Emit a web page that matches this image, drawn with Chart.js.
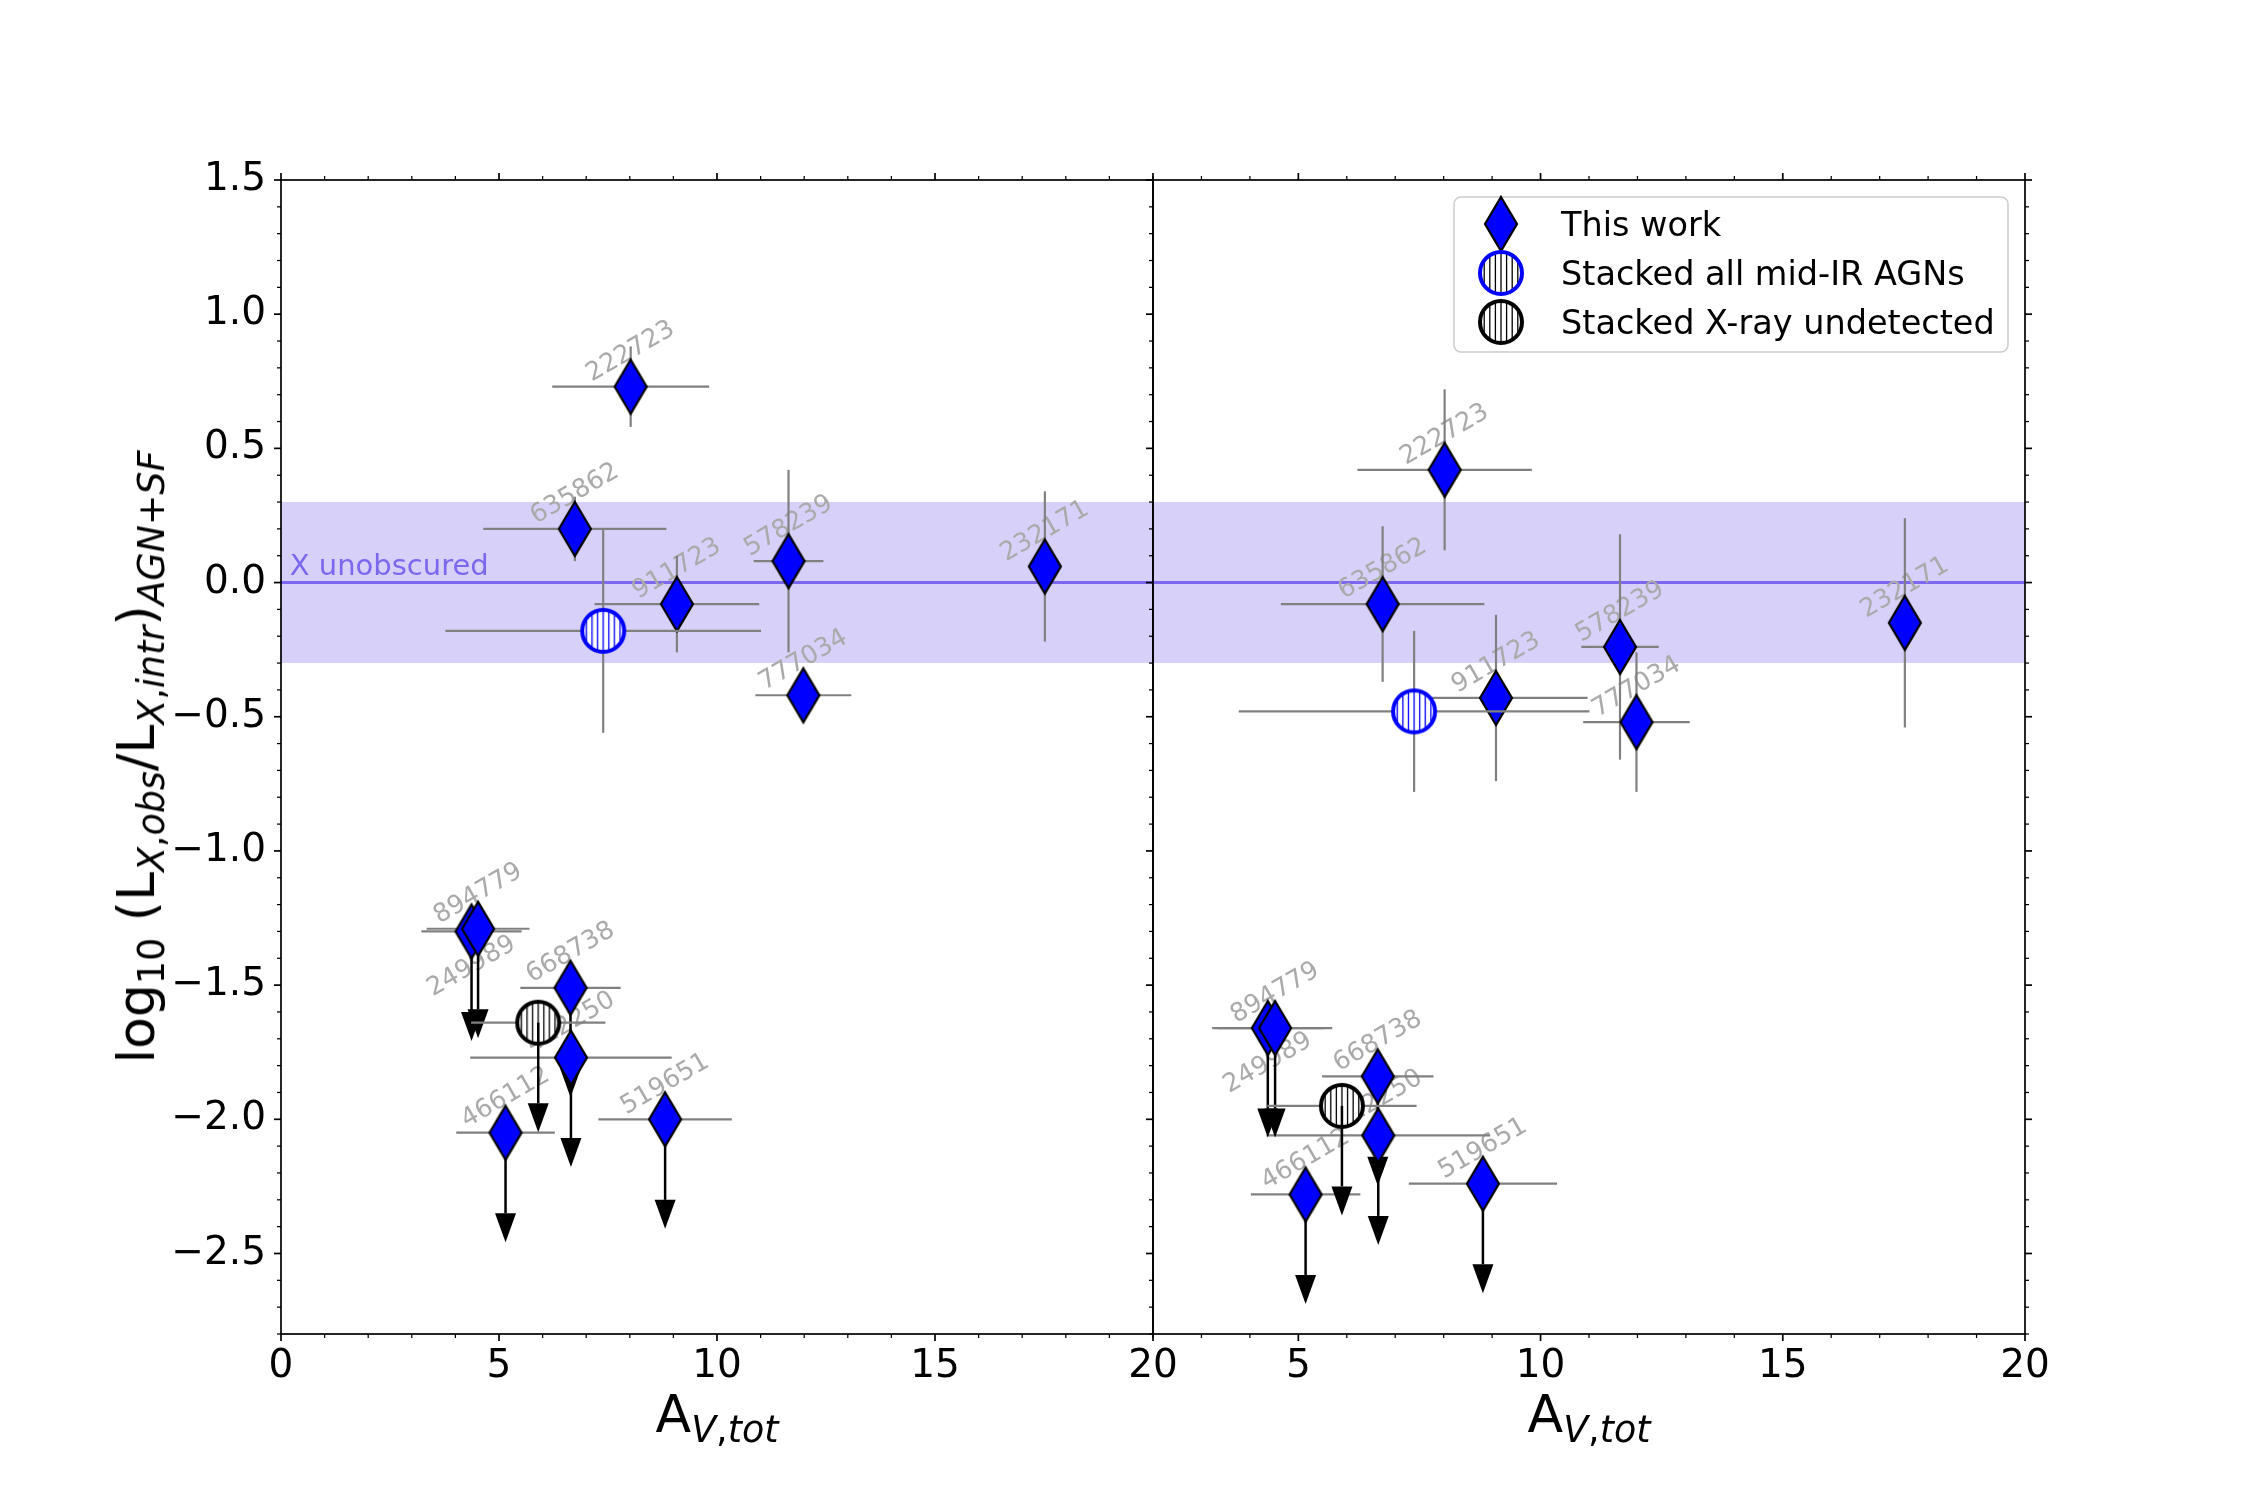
<!DOCTYPE html>
<html>
<head>
<meta charset="utf-8">
<script src="https://cdn.jsdelivr.net/npm/chart.js@4.4.1/dist/chart.umd.min.js"></script>
<style>
  html, body { margin: 0; padding: 0; background: #fff; }
  #wrap { position: relative; width: 2250px; height: 1500px; font-family: "DejaVu Sans", sans-serif; }
  #wrap canvas { position: absolute; top: 0; }
  #cvL { left: 0; }
  #cvR { left: 1100px; }
  .axlab { position: absolute; white-space: nowrap; font-size: 52px; line-height: 1; color: #000; }
  .axlab sub { font-size: 70%; vertical-align: -0.28em; line-height: 0; }
  .axlab i { font-style: italic; }
  #xlabL { left: 717px; top: 1388px; transform: translateX(-50%); }
  #xlabR { left: 1589px; top: 1388px; transform: translateX(-50%); }
  #ylab { left: 136px; top: 757px; transform: translate(-50%, -50%) rotate(-90deg); }
</style>
</head>
<body>
<div id="wrap">
  <canvas id="cvL" width="1200" height="1500"></canvas>
  <canvas id="cvR" width="1150" height="1500"></canvas>
  <div class="axlab" id="xlabL">A<sub><i>V</i>,<i>tot</i></sub></div>
  <div class="axlab" id="xlabR">A<sub><i>V</i>,<i>tot</i></sub></div>
  <div class="axlab" id="ylab">log<sub>10</sub> (L<sub><i>X</i>,<i>obs</i></sub>/L<sub><i>X</i>,<i>intr</i></sub>)<sub><i>AGN</i>+<i>SF</i></sub></div>
</div>
<script>
/* ---- data ---- */
const ids        = ["222723", "635862", "911723", "578239", "777034", "232171", "249989", "894779", "668738", "412250", "466112", "519651"];
const avTot      = [8.02, 6.74, 9.08, 11.64, 11.98, 17.52, 4.37, 4.52, 6.64, 6.65, 5.15, 8.81];
const avTotErr   = [1.80, 2.10, 1.89, 0.80, 1.10, 0.00, 1.15, 1.18, 1.15, 2.31, 1.13, 1.53];
const ratioLeft     = [0.73, 0.20, -0.08, 0.08, -0.42, 0.06, -1.30, -1.29, -1.51, -1.77, -2.05, -2.00];
const ratioLeftErr  = [0.15, 0.12, 0.18, 0.34, 0.00, 0.28, 0, 0, 0, 0, 0, 0];
const ratioRight    = [0.42, -0.08, -0.43, -0.24, -0.52, -0.15, -1.66, -1.66, -1.84, -2.06, -2.28, -2.24];
const ratioRightErr = [0.30, 0.29, 0.31, 0.42, 0.26, 0.39, 0, 0, 0, 0, 0, 0];
const upperLimit = [false, false, false, false, false, false, true, true, true, true, true, true];
const labelBelow = ["249989"];

const stackNames     = ["Stacked all mid-IR AGNs", "Stacked X-ray undetected"];
const stackAv        = [7.39, 5.90];
const stackAvErr     = [3.62, 1.54];
const stackLeft      = [-0.18, -1.64];
const stackLeftErr   = [0.38, 0];
const stackRight     = [-0.48, -1.95];
const stackRightErr  = [0.30, 0];
const stackUpper     = [false, true];

const xLimLeft   = [0, 20];
const xLimRight  = [2, 20];
const yLim       = [-2.8, 1.5];
const xTicksLeft  = [0, 5, 10, 15, 20];
const xTicksRight = [5, 10, 15, 20];
const yTicks     = [-2.5, -2.0, -1.5, -1.0, -0.5, 0.0, 0.5, 1.0, 1.5];
const unobscBand = [-0.3, 0.3];
const unobscLine = 0;
const limitLength = 0.3;

Chart.defaults.font.family = "DejaVu Sans";

/* ---- marker images ---- */
function diamondImg() {
  const c = document.createElement("canvas");
  c.width = 38; c.height = 60;
  const g = c.getContext("2d");
  g.beginPath();
  g.moveTo(19, 3); g.lineTo(35, 30); g.lineTo(19, 57); g.lineTo(3, 30); g.closePath();
  g.fillStyle = "#0000ff"; g.fill();
  g.lineWidth = 2.2; g.strokeStyle = "#000"; g.stroke();
  return c;
}
function hatchImg(edge, hatch) {
  const c = document.createElement("canvas");
  c.width = 52; c.height = 52;
  const g = c.getContext("2d");
  g.save();
  g.beginPath(); g.arc(26, 26, 21, 0, Math.PI * 2);
  g.fillStyle = "#fff"; g.fill(); g.clip();
  g.strokeStyle = hatch; g.lineWidth = 1.3;
  for (let k = -4; k <= 4; k++) {
    g.beginPath(); g.moveTo(26 + k * 5.6, 0); g.lineTo(26 + k * 5.6, 52); g.stroke();
  }
  g.restore();
  g.beginPath(); g.arc(26, 26, 21, 0, Math.PI * 2);
  g.lineWidth = 4; g.strokeStyle = edge; g.stroke();
  return c;
}
const imgDiamond = diamondImg();
const imgAll     = hatchImg("#0000ff", "#0000ff");
const imgAllLeg  = hatchImg("#0000ff", "#000");
const imgUnd     = hatchImg("#000", "#000");

/* ---- plugins ---- */
function line(ctx, x1, y1, x2, y2) {
  ctx.beginPath(); ctx.moveTo(x1, y1); ctx.lineTo(x2, y2); ctx.stroke();
}

function drawLimits(chart, ds, meta) {
  const ctx = chart.ctx;
  const xs = chart.scales[meta.xAxisID], ys = chart.scales[meta.yAxisID];
  ctx.save();
  ctx.strokeStyle = "#000"; ctx.fillStyle = "#000"; ctx.lineWidth = 2.5;
  ds.data.forEach((p, i) => {
    if (!ds.upper[i]) return;
    const px = xs.getPixelForValue(p.x);
    const py = ys.getPixelForValue(p.y);
    const pe = ys.getPixelForValue(p.y - limitLength);
    line(ctx, px, py, px, pe);
    ctx.beginPath();
    ctx.moveTo(px - 10.5, pe); ctx.lineTo(px + 10.5, pe); ctx.lineTo(px, pe + 29); ctx.closePath();
    ctx.fill();
  });
  ctx.restore();
}

const errorBars = {
  id: "errorBars",
  beforeDatasetDraw(chart, args) {
    const ds = chart.data.datasets[args.index];
    if (!ds.errX) return;
    const ctx = chart.ctx, meta = args.meta;
    const xs = chart.scales[meta.xAxisID], ys = chart.scales[meta.yAxisID];
    ctx.save();
    if (ds.names) {
      ctx.font = "25.5px 'DejaVu Sans'";
      ctx.fillStyle = "#aaaaaa";
      ctx.textAlign = "center"; ctx.textBaseline = "middle";
      ds.data.forEach((p, i) => {
        const off = labelBelow.includes(ds.names[i]) ? 35 : -35;
        ctx.save();
        ctx.translate(xs.getPixelForValue(p.x), ys.getPixelForValue(p.y) + off);
        ctx.rotate(-Math.PI / 6);
        ctx.fillText(ds.names[i], 0, 0);
        ctx.restore();
      });
    }
    ctx.strokeStyle = "#808080"; ctx.lineWidth = 2.2;
    ds.data.forEach((p, i) => {
      const px = xs.getPixelForValue(p.x), py = ys.getPixelForValue(p.y);
      if (ds.errX[i] > 0) line(ctx, xs.getPixelForValue(p.x - ds.errX[i]), py, xs.getPixelForValue(p.x + ds.errX[i]), py);
      if (ds.errY[i] > 0) line(ctx, px, ys.getPixelForValue(p.y + ds.errY[i]), px, ys.getPixelForValue(p.y - ds.errY[i]));
    });
    ctx.restore();
    if (!ds.limitsOnTop) drawLimits(chart, ds, meta);
  },
  afterDatasetDraw(chart, args) {
    const ds = chart.data.datasets[args.index];
    if (ds.errX && ds.limitsOnTop) drawLimits(chart, ds, args.meta);
  }
};

const axesFrame = {
  id: "axesFrame",
  afterDraw(chart, args, opts) {
    const ctx = chart.ctx, a = chart.chartArea;
    const xs = chart.scales.x, ys = chart.scales.y;
    ctx.save();
    ctx.strokeStyle = "#000";
    for (let v = Math.ceil(xs.min); v <= xs.max; v++) {
      const px = xs.getPixelForValue(v);
      const major = v % 5 === 0;
      const len = major ? 7 : 4;
      ctx.lineWidth = major ? 1.7 : 1.25;
      line(ctx, px, a.bottom, px, a.bottom + len);
      line(ctx, px, a.top, px, a.top - len);
    }
    for (let k = Math.ceil(ys.min * 10 - 1e-6); k <= Math.floor(ys.max * 10 + 1e-6); k++) {
      const py = ys.getPixelForValue(k / 10);
      const major = k % 5 === 0;
      const len = major ? 7 : 4;
      ctx.lineWidth = major ? 1.7 : 1.25;
      if (opts.left) line(ctx, a.left, py, a.left - len, py);
      if (opts.right) line(ctx, a.right, py, a.right + len, py);
    }
    ctx.lineWidth = 1.7;
    ctx.strokeRect(a.left, a.top, a.right - a.left, a.bottom - a.top);
    if (opts.note) {
      ctx.font = "29px 'DejaVu Sans'";
      ctx.fillStyle = "#7b68ee";
      ctx.textAlign = "left"; ctx.textBaseline = "alphabetic";
      ctx.fillText(opts.note, xs.getPixelForValue(0.2), ys.getPixelForValue(unobscLine) - 8);
    }
    ctx.restore();
  }
};

const boxLegend = {
  id: "boxLegend",
  afterDraw(chart, args, opts) {
    if (!opts.show) return;
    const ctx = chart.ctx, a = chart.chartArea;
    const w = 554, h = 155;
    const left = a.right - 17 - w, top = a.top + 17;
    ctx.save();
    ctx.beginPath();
    ctx.roundRect(left, top, w, h, 7);
    ctx.fillStyle = "rgba(255,255,255,0.8)"; ctx.fill();
    ctx.lineWidth = 1.5; ctx.strokeStyle = "#cccccc"; ctx.stroke();
    ctx.font = "33.5px 'DejaVu Sans'";
    ctx.fillStyle = "#000"; ctx.textAlign = "left"; ctx.textBaseline = "alphabetic";
    chart.data.datasets.filter(d => d.legendImg).forEach((d, i) => {
      const cy = top + 27 + i * 49;
      ctx.drawImage(d.legendImg, left + 47 - d.legendImg.width / 2, cy - d.legendImg.height / 2);
      ctx.fillText(d.label, left + 107, cy + 12);
    });
    ctx.restore();
  }
};

/* ---- chart builders ---- */
function pts(xs, ys) { return xs.map((x, i) => ({ x: x, y: ys[i] })); }

function panelDatasets(xLim, ratio, ratioErr, stackY, stackYErr) {
  return [
    { type: "line", label: "band lo", data: pts(xLim, [unobscBand[0], unobscBand[0]]), borderWidth: 0, pointRadius: 0, fill: false, order: 10 },
    { type: "line", label: "band hi", data: pts(xLim, [unobscBand[1], unobscBand[1]]), borderWidth: 0, pointRadius: 0, fill: "-1", backgroundColor: "rgba(123,104,238,0.3)", order: 9 },
    { type: "line", label: "X unobscured", data: pts(xLim, [unobscLine, unobscLine]), borderColor: "#7b68ee", borderWidth: 3, pointRadius: 0, fill: false, order: 8 },
    { type: "scatter", label: "This work", data: pts(avTot, ratio), pointStyle: imgDiamond, pointRadius: 20, pointHoverRadius: 20,
      errX: avTotErr, errY: ratioErr, upper: upperLimit, names: ids, legendImg: imgDiamond, order: 3 },
    { type: "scatter", label: stackNames[0], data: [{ x: stackAv[0], y: stackY[0] }], pointStyle: imgAll, pointRadius: 20, pointHoverRadius: 20,
      errX: [stackAvErr[0]], errY: [stackYErr[0]], upper: [stackUpper[0]], limitsOnTop: true, legendImg: imgAllLeg, order: 2 },
    { type: "scatter", label: stackNames[1], data: [{ x: stackAv[1], y: stackY[1] }], pointStyle: imgUnd, pointRadius: 20, pointHoverRadius: 20,
      errX: [stackAvErr[1]], errY: [stackYErr[1]], upper: [stackUpper[1]], limitsOnTop: true, legendImg: imgUnd, order: 1 }
  ];
}

function panelOptions(xLim, xTicks, showY, pad, frame, legendShow) {
  const yScale = {
    type: "linear", min: yLim[0], max: yLim[1], display: showY,
    grid: { display: false }, border: { display: false },
    afterBuildTicks: s => { s.ticks = yTicks.map(v => ({ value: v })); },
    ticks: { color: "#000", font: { size: 39 }, padding: 7, autoSkip: false,
             callback: v => v.toFixed(1).replace("-", "\u2212") }
  };
  if (showY) yScale.afterFit = s => { s.width = 281; };
  return {
    responsive: false,
    animation: false,
    events: [],
    layout: { padding: pad },
    plugins: {
      legend: { display: false },
      tooltip: { enabled: false },
      axesFrame: frame,
      boxLegend: { show: legendShow }
    },
    scales: {
      x: {
        type: "linear", min: xLim[0], max: xLim[1],
        grid: { display: false }, border: { display: false },
        afterBuildTicks: s => { s.ticks = xTicks.map(v => ({ value: v })); },
        afterFit: s => { s.height = 166; },
        ticks: { color: "#000", font: { size: 39 }, padding: 1, maxRotation: 0, autoSkip: false,
                 callback: v => String(v) }
      },
      y: yScale
    }
  };
}

new Chart(document.getElementById("cvL"), {
  type: "scatter",
  data: { datasets: panelDatasets(xLimLeft, ratioLeft, ratioLeftErr, stackLeft, stackLeftErr) },
  options: panelOptions(xLimLeft, xTicksLeft, true, { top: 180, right: 47, left: 0, bottom: 0 },
                        { left: true, right: false, note: "X unobscured" }, false),
  plugins: [errorBars, axesFrame, boxLegend]
});

new Chart(document.getElementById("cvR"), {
  type: "scatter",
  data: { datasets: panelDatasets(xLimRight, ratioRight, ratioRightErr, stackRight, stackRightErr) },
  options: panelOptions(xLimRight, xTicksRight, false, { top: 180, right: 225, left: 53, bottom: 0 },
                        { left: true, right: true }, true),
  plugins: [errorBars, axesFrame, boxLegend]
});
</script>
</body>
</html>
